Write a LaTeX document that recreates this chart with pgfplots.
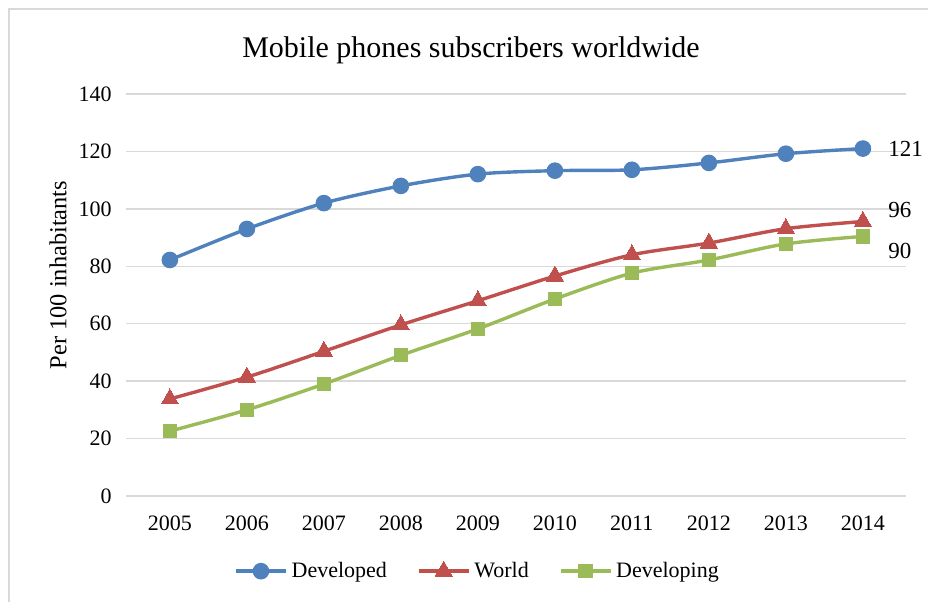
\documentclass[border=0pt]{standalone}
\usepackage{fontspec}
\setmainfont{Liberation Serif}
\usepackage{pgfplots}
\pgfplotsset{compat=1.18}
\definecolor{cblue}{HTML}{4F81BD}
\definecolor{cred}{HTML}{C0504D}
\definecolor{cgreen}{HTML}{9BBB59}
\definecolor{cgrid}{HTML}{D9D9D9}
\begin{document}
\begin{tikzpicture}
\useasboundingbox (0pt,0pt) rectangle (464pt,300.5pt);
\draw[cgrid, line width=1pt] (4.5pt,-1pt) -- (4.5pt,296pt) -- (466pt,296pt);
\node[anchor=base, font=\fontsize{15}{17}\selectfont] at (235.5pt,271.5pt) {Mobile phones subscribers worldwide};
\node[rotate=90, font=\fontsize{12.2}{14}\selectfont] at (29pt,163pt) {Per 100 inhabitants};
\begin{axis}[
  at={(63pt,52.5pt)}, anchor=south west,
  scale only axis, width=390pt, height=201pt,
  xmin=2004.43, xmax=2014.56, ymin=0, ymax=140,
  xtick={2005,...,2014}, ytick={0,20,...,140},
  xticklabel style={/pgf/number format/1000 sep={}},
  /pgf/number format/assume math mode=true,
  axis line style={draw=none},
  major tick length=0pt,
  ymajorgrids, grid style={cgrid, line width=0.75pt},
  tick label style={font=\fontsize{11}{13}\selectfont},
  yticklabel style={inner sep=0pt, anchor=east, xshift=-7pt},
  xticklabel style={inner sep=0pt, anchor=north, yshift=-9.5pt},
  clip=false,
  legend columns=3,
  legend style={draw=none, fill=none, at={(0.452,-0.187)}, anchor=center,
    font=\fontsize{11}{13}\selectfont, inner sep=0pt,
    /tikz/every even column/.append style={column sep=13pt}},
  legend image code/.code={\draw[mark repeat=2,mark phase=2] plot coordinates {(0pt,0pt) (12.5pt,0pt) (25pt,0pt)};},
  every axis plot/.append style={line width=1.7pt, smooth, tension=0.5},
]
\addplot[cblue, mark=*, mark size=3.3pt, mark options={solid, fill=cblue}] coordinates {
(2005,82.2) (2006,93.0) (2007,102.0) (2008,108.0) (2009,112.1) (2010,113.3) (2011,113.6) (2012,116.0) (2013,119.2) (2014,121.0)};
\addlegendentry{Developed}
\addplot[cred, mark=triangle*, mark size=5pt, mark options={solid, fill=cred, line width=0pt}] coordinates {
(2005,33.8) (2006,41.4) (2007,50.4) (2008,59.6) (2009,68.0) (2010,76.6) (2011,84.0) (2012,88.1) (2013,93.1) (2014,95.6)};
\addlegendentry{World}
\addplot[cgreen, mark=square*, mark size=3.3pt, mark options={solid, fill=cgreen, line width=0pt}] coordinates {
(2005,22.6) (2006,30.0) (2007,39.0) (2008,49.0) (2009,58.2) (2010,68.6) (2011,77.6) (2012,82.2) (2013,87.8) (2014,90.4)};
\addlegendentry{Developing}
\node[anchor=west, inner sep=0pt, font=\fontsize{11.5}{13}\selectfont, xshift=12.5pt] at (axis cs:2014,121) {121};
\node[anchor=west, inner sep=0pt, font=\fontsize{11.5}{13}\selectfont, xshift=12.5pt, yshift=5.5pt] at (axis cs:2014,95.6) {96};
\node[anchor=west, inner sep=0pt, font=\fontsize{11.5}{13}\selectfont, xshift=12.5pt, yshift=-7.5pt] at (axis cs:2014,90.4) {90};
\end{axis}
\end{tikzpicture}
\end{document}
